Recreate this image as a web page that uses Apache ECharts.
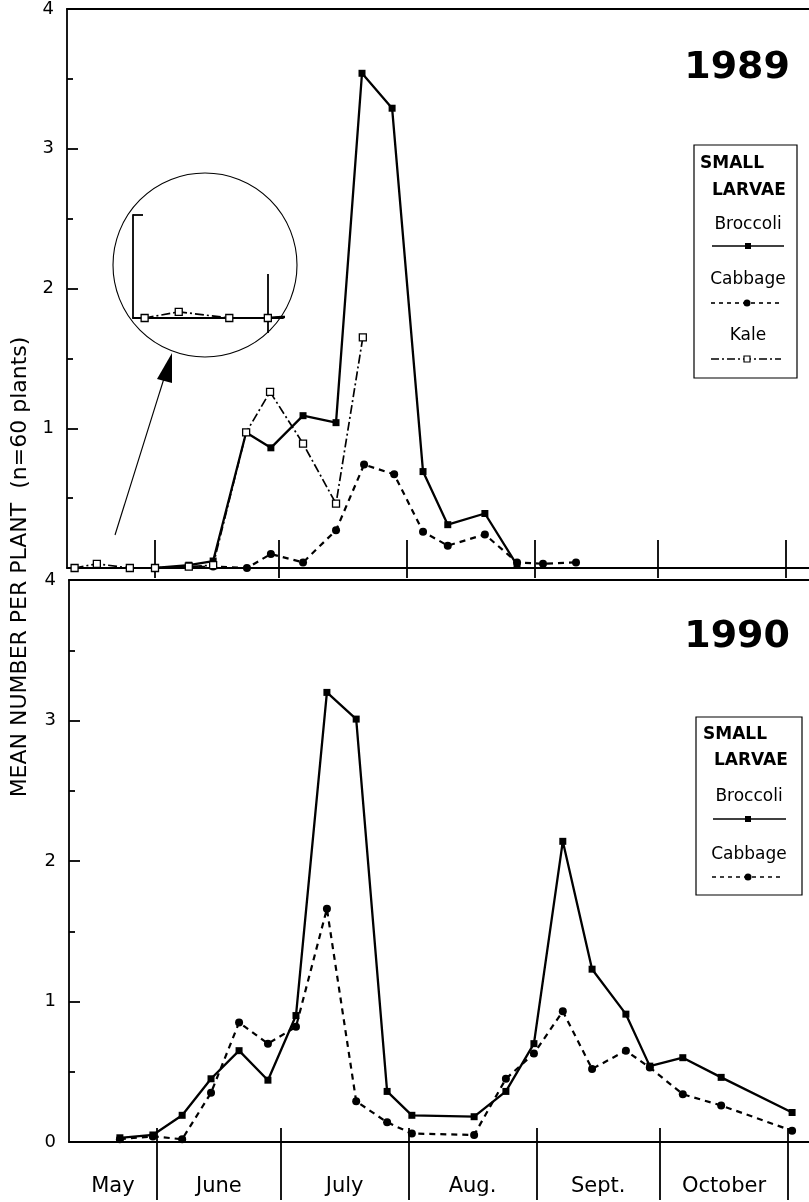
<!DOCTYPE html>
<html><head><meta charset="utf-8">
<script src="https://cdn.jsdelivr.net/npm/echarts@6/dist/echarts.min.js"></script>
<style>html,body{margin:0;padding:0;background:#fff}#c{width:809px;height:1202px}</style>
</head><body><div id="c"></div>
<script>
// ---- Data (x = days since May 1; May 1 = 0) ----
const monthStarts = [31, 61, 92, 123, 153, 184];
const monthNames = ['May', 'June', 'July', 'Aug.', 'Sept.', 'October'];
const monthLabelDays = [20.3, 46, 76.5, 107.5, 138, 168.5];
const yTickLabels = ['0', '1', '2', '3', '4'];

const broccoli89Days = [31.0, 39.2, 45.1, 53.1, 59.1, 66.9, 74.9, 81.2, 88.5, 96.0, 102.0, 111.0, 118.8];
const broccoli89 = [0.0, 0.02, 0.05, 0.97, 0.86, 1.09, 1.04, 3.54, 3.29, 0.69, 0.31, 0.39, 0.02];
const cabbage89Days = [31.0, 45.1, 53.3, 59.1, 66.9, 74.9, 81.7, 89.0, 96.0, 102.0, 111.0, 118.8, 125.1, 133.1];
const cabbage89 = [0.0, 0.01, 0.0, 0.10, 0.04, 0.27, 0.74, 0.67, 0.26, 0.16, 0.24, 0.04, 0.03, 0.04];
const kale89Days = [11.5, 16.9, 24.9, 31.0, 39.2, 45.1, 53.1, 58.9, 66.9, 74.9, 81.4];
const kale89 = [0.0, 0.03, 0.0, 0.0, 0.01, 0.02, 0.97, 1.26, 0.89, 0.46, 1.65];

const days90 = [22.0, 30.0, 37.1, 44.1, 50.9, 57.9, 64.7, 72.2, 79.3, 86.8, 92.8, 107.9, 115.6, 122.4, 129.4, 136.5, 144.7, 150.5, 158.5, 167.8, 185.0];
const broccoli90 = [0.03, 0.05, 0.19, 0.45, 0.65, 0.44, 0.90, 3.20, 3.01, 0.36, 0.19, 0.18, 0.36, 0.70, 2.14, 1.23, 0.91, 0.54, 0.60, 0.46, 0.21];
const cabbage90 = [0.02, 0.04, 0.02, 0.35, 0.85, 0.70, 0.82, 1.66, 0.29, 0.14, 0.06, 0.05, 0.45, 0.63, 0.93, 0.52, 0.65, 0.53, 0.34, 0.26, 0.08];

// ---- Helpers ----
const zip = (a, b) => a.map((d, i) => [d, b[i]]);
const FONT = 'DejaVu Sans';
const K = '#000';
const XMIN = 9.66;
const AW = 1.8;

function xBase(grid, max, tickLen, inside, labels) {
  return {
    type: 'value', gridIndex: grid, position: 'bottom', min: XMIN, max: max,
    axisLine: { show: inside, lineStyle: { color: K, width: AW } },
    axisTick: { show: true, inside: inside, length: tickLen, customValues: monthStarts, lineStyle: { color: K, width: AW } },
    axisLabel: labels ? {
      show: true, customValues: monthLabelDays, margin: 34,
      fontFamily: FONT, fontSize: 21, color: K,
      formatter: v => { const i = monthLabelDays.findIndex(d => Math.abs(d - v) < 0.01); return i >= 0 ? monthNames[i] : ''; }
    } : { show: false },
    splitLine: { show: false }
  };
}
function xTop(grid, max) {
  return { type: 'value', gridIndex: grid, position: 'top', min: XMIN, max: max,
    axisLine: { show: true, lineStyle: { color: K, width: AW } },
    axisTick: { show: false }, axisLabel: { show: false }, splitLine: { show: false } };
}
function yAx(grid, showZero) {
  return {
    type: 'value', gridIndex: grid, min: 0, max: 4, interval: 1,
    axisLine: { show: true, lineStyle: { color: K, width: AW } },
    axisTick: { show: true, inside: true, length: 11, lineStyle: { color: K, width: AW } },
    minorTick: { show: true, splitNumber: 2, length: 6, lineStyle: { color: K, width: AW } },
    axisLabel: { show: true, margin: 13, fontFamily: FONT, fontSize: 18, color: K,
      formatter: v => (v === 0 && !showZero) ? '' : yTickLabels[Math.round(v)] },
    splitLine: { show: false }
  };
}
const broStyle = { type: 'line', symbol: 'rect', symbolSize: 7, itemStyle: { color: K }, lineStyle: { color: K, width: 2.3 } };
const cabStyle = { type: 'line', symbol: 'circle', symbolSize: 8, itemStyle: { color: K }, lineStyle: { color: K, width: 2.2, type: [6, 5] } };
const kaleStyle = { type: 'line', symbol: 'rect', symbolSize: 7, itemStyle: { color: '#fff', borderColor: K, borderWidth: 1.3 }, lineStyle: { color: K, width: 1.7, type: [9, 3, 2, 3] } };

function legend(x, y, w, h, rows) {
  const els = [{ type: 'rect', shape: { x: x, y: y, width: w, height: h }, style: { fill: '#fff', stroke: K, lineWidth: 1.2 } }];
  return els.concat(rows);
}
function txt(x, y, s, opts) {
  return { type: 'text', x: x, y: y, style: Object.assign({ text: s, fontFamily: FONT, fontSize: 17, fill: K, align: 'center', verticalAlign: 'middle' }, opts || {}) };
}
function hline(x1, x2, y, dash, lw) {
  return { type: 'line', shape: { x1: x1, y1: y, x2: x2, y2: y }, style: { stroke: K, lineWidth: lw || 1.6, lineDash: dash || null } };
}

const graphics = [
  // y-axis title
  { type: 'text', x: 20, y: 567, rotation: Math.PI / 2,
    style: { text: 'MEAN NUMBER PER PLANT  (n=60 plants)', fontFamily: FONT, fontSize: 22, fill: K, align: 'center', verticalAlign: 'middle' } },
  // year labels
  txt(790, 68, '1989', { fontSize: 38, fontWeight: 'bold', align: 'right' }),
  txt(790, 637, '1990', { fontSize: 38, fontWeight: 'bold', align: 'right' }),
  // inset circle and arrow
  { type: 'circle', shape: { cx: 205, cy: 265, r: 92 }, style: { fill: null, stroke: K, lineWidth: 1.1 }, z: 1 },
  { type: 'line', shape: { x1: 115, y1: 535, x2: 166, y2: 372 }, style: { stroke: K, lineWidth: 1.1 } },
  { type: 'polygon', shape: { points: [[172, 353], [157, 379], [172, 383]] }, style: { fill: K } }
].concat(legend(694, 145, 103, 233, [
  txt(700, 164, 'SMALL', { fontWeight: 'bold', align: 'left' }),
  txt(712, 191, 'LARVAE', { fontWeight: 'bold', align: 'left' }),
  txt(748, 225, 'Broccoli'),
  hline(712, 784, 246),
  { type: 'rect', shape: { x: 745, y: 243, width: 6, height: 6 }, style: { fill: K } },
  txt(748, 280, 'Cabbage'),
  hline(711, 782, 303, [4, 4]),
  { type: 'circle', shape: { cx: 747, cy: 303, r: 3.5 }, style: { fill: K } },
  txt(748, 336, 'Kale'),
  hline(711, 781, 359, [8, 3, 2, 3], 1.3),
  { type: 'rect', shape: { x: 744, y: 356, width: 6, height: 6 }, style: { fill: '#fff', stroke: K, lineWidth: 1.2 } }
])).concat(legend(696, 717, 106, 178, [
  txt(703, 735, 'SMALL', { fontWeight: 'bold', align: 'left' }),
  txt(714, 761, 'LARVAE', { fontWeight: 'bold', align: 'left' }),
  txt(749, 797, 'Broccoli'),
  hline(713, 786, 819),
  { type: 'rect', shape: { x: 745, y: 816, width: 6, height: 6 }, style: { fill: K } },
  txt(749, 855, 'Cabbage'),
  hline(712, 783, 877, [4, 4]),
  { type: 'circle', shape: { cx: 748, cy: 877, r: 3.5 }, style: { fill: K } }
]));

const chart = echarts.init(document.getElementById('c'), null, { renderer: 'canvas' });
chart.setOption({
  backgroundColor: '#fff',
  animation: false,
  grid: [
    { left: 67, top: 8, width: 742, height: 560 },
    { left: 69, top: 580, width: 740, height: 562 },
    { left: 133, top: 215, width: 150, height: 103 }
  ],
  xAxis: [
    xBase(0, 189.6, 28, true, false),
    xBase(0, 189.6, 10, false, false),
    xTop(0, 189.6),
    xBase(1, 189.1, 14, true, false),
    xBase(1, 189.1, 58, false, true),
    xTop(1, 189.1),
    // inset magnification axes
    { type: 'value', gridIndex: 2, position: 'bottom', min: 9.66, max: 33.4,
      axisLine: { show: true, lineStyle: { color: K, width: AW } },
      axisTick: { show: true, inside: true, length: 44, customValues: [31], lineStyle: { color: K, width: AW } },
      axisLabel: { show: false }, splitLine: { show: false } },
    { type: 'value', gridIndex: 2, position: 'bottom', min: 9.66, max: 33.4,
      axisLine: { show: false },
      axisTick: { show: true, inside: false, length: 15, customValues: [31], lineStyle: { color: K, width: AW } },
      axisLabel: { show: false }, splitLine: { show: false } }
  ],
  yAxis: [
    yAx(0, false),
    yAx(1, true),
    { type: 'value', gridIndex: 2, min: 0, max: 0.5, interval: 0.5,
      axisLine: { show: true, lineStyle: { color: K, width: AW } },
      axisTick: { show: true, inside: true, length: 10, lineStyle: { color: K, width: AW } },
      axisLabel: { show: false }, splitLine: { show: false } }
  ],
  series: [
    Object.assign({ name: 'Broccoli 1989', xAxisIndex: 0, yAxisIndex: 0, data: zip(broccoli89Days, broccoli89), z: 4 }, broStyle),
    Object.assign({ name: 'Cabbage 1989', xAxisIndex: 0, yAxisIndex: 0, data: zip(cabbage89Days, cabbage89), z: 3 }, cabStyle),
    Object.assign({ name: 'Kale 1989', xAxisIndex: 0, yAxisIndex: 0, data: zip(kale89Days, kale89), z: 5 }, kaleStyle),
    Object.assign({ name: 'Broccoli 1990', xAxisIndex: 3, yAxisIndex: 1, data: zip(days90, broccoli90), z: 4 }, broStyle),
    Object.assign({ name: 'Cabbage 1990', xAxisIndex: 3, yAxisIndex: 1, data: zip(days90, cabbage90), z: 3 }, cabStyle),
    // inset (magnified early-season values)
    Object.assign({ name: 'Broccoli inset', xAxisIndex: 6, yAxisIndex: 2, data: zip(broccoli89Days, broccoli89), z: 4 }, broStyle),
    Object.assign({ name: 'Kale inset', xAxisIndex: 6, yAxisIndex: 2, data: zip(kale89Days, kale89), z: 5 }, kaleStyle)
  ],
  graphic: graphics
});
</script></body></html>
